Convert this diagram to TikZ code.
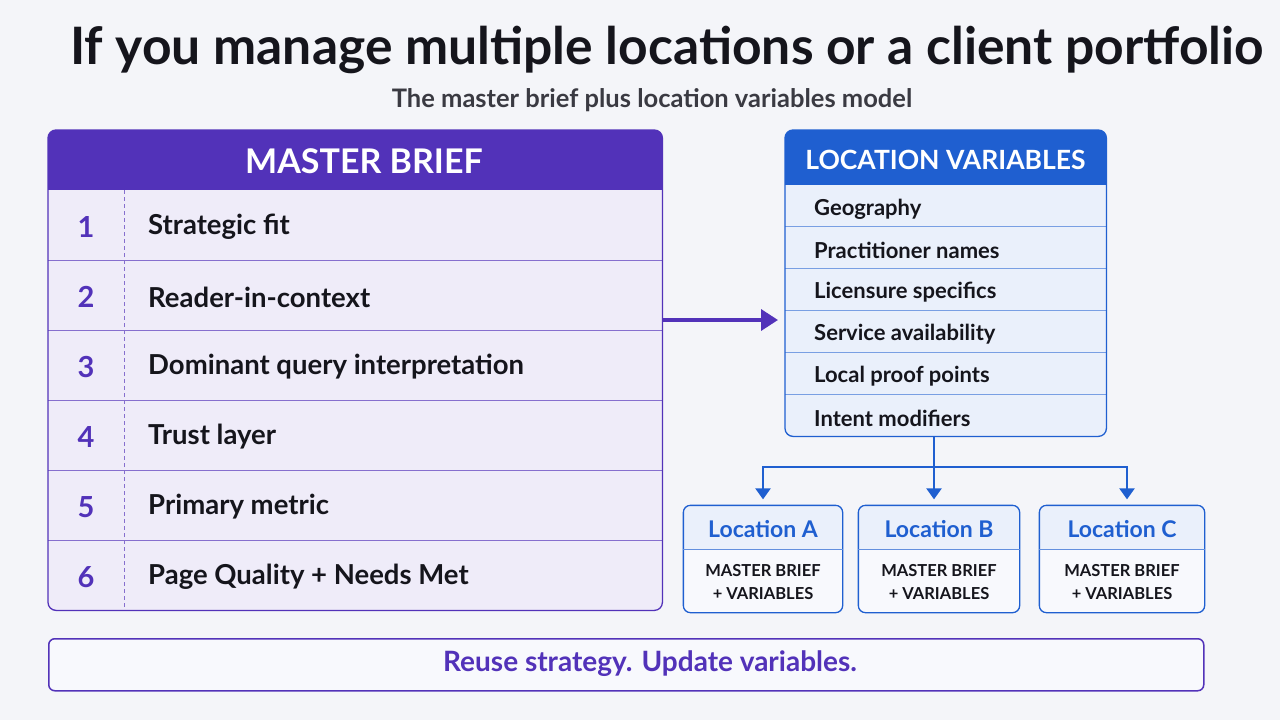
\documentclass[tikz,border=0pt]{standalone}
\usepackage{fontspec}
\setmainfont{Lato}
\usetikzlibrary{positioning, calc, arrows.meta}

\definecolor{bgpage}{HTML}{F4F5F9}
\definecolor{brief}{HTML}{5232B9}
\definecolor{briefrow}{HTML}{EFECF9}
\definecolor{locblue}{HTML}{1F5FD0}
\definecolor{locrow}{HTML}{EAF0FB}
\definecolor{locbody}{HTML}{F8F9FD}
\definecolor{ink}{HTML}{15151C}
\definecolor{subink}{HTML}{3A3A42}

\tikzset{
	fsz/.style={font=\bfseries\fontsize{#1}{#1}\selectfont},
	rowtxt/.style={fsz=27.5, text=ink, anchor=west, inner sep=0pt},
	numtxt/.style={fsz=29, text=brief, inner sep=0pt},
	vartxt/.style={fsz=22, text=ink, anchor=west, inner sep=0pt},
	locbox/.style={draw=locblue, line width=1.3pt, rounded corners=7pt, minimum height=106pt, inner sep=0pt},
	loctxt/.style={fsz=23, text=locblue, inner sep=0pt},
	smalltxt/.style={fsz=16.5, text=ink, inner sep=0pt, align=center},
	bluearrow/.style={draw=locblue, line width=2.4pt, -{Triangle[length=11pt,width=15pt]}},
}

\begin{document}
\begin{tikzpicture}[x=1pt, y=-1pt]
	\def\mbL{48}
	\def\mbR{662}
	\def\mbT{190}
	\def\rowH{70}
	\def\lvL{785}
	\def\lvR{1106}
	\def\lvT{185}
	\def\lvH{41.83}

	% page
	\fill[bgpage] (0,0) rectangle (1280,720);
	\useasboundingbox (0,0) rectangle (1280,720);

	% title
	\node[fsz=51.6, text=ink] (title) at (667,50) {If you manage multiple locations or a client portfolio};
	\node[fsz=25.5, text=subink] (subtitle) at (652,100) {The master brief plus location variables model};

	% master brief
	\node[anchor=north west, minimum width=614pt, minimum height=480pt, inner sep=0pt] (mb) at (\mbL,130) {};
	\begin{scope}
		\clip[rounded corners=8pt] (mb.north west) rectangle (mb.south east);
		\fill[briefrow] (mb.north west) rectangle (mb.south east);
		\fill[brief] (mb.north west) rectangle (\mbR,\mbT);
	\end{scope}
	\foreach \i in {1,...,5} {
		\draw[brief!70, line width=1pt] (\mbL,\mbT+\i*\rowH) -- (\mbR,\mbT+\i*\rowH);
	}
	\draw[brief!70, line width=0.8pt, dash pattern=on 4pt off 3pt] (124,\mbT) -- (124,610);
	\draw[brief, line width=1.3pt, rounded corners=8pt] (mb.north west) rectangle (mb.south east);
	\node[fsz=34, text=white] (mbhead) at (364,161) {MASTER BRIEF};
	\foreach \i/\txt in {1/Strategic fit, 2/Reader-in-context, 3/Dominant query interpretation, 4/Trust layer, 5/Primary metric, 6/Page Quality + Needs Met} {
		\node[numtxt] (mbn\i) at (86,\mbT+\i*\rowH-33) {\i};
		\node[rowtxt] (mbt\i) at (148,\mbT+\i*\rowH-33) {\txt};
	}

	% location variables
	\node[anchor=north west, minimum width=321pt, minimum height=306pt, inner sep=0pt] (lv) at (\lvL,130) {};
	\begin{scope}
		\clip[rounded corners=8pt] (lv.north west) rectangle (lv.south east);
		\fill[locrow] (lv.north west) rectangle (lv.south east);
		\fill[locblue] (lv.north west) rectangle (\lvR,\lvT);
	\end{scope}
	\foreach \i in {1,...,5} {
		\draw[locblue!60, line width=1pt] (\lvL,\lvT+\i*\lvH) -- (\lvR,\lvT+\i*\lvH);
	}
	\draw[locblue, line width=1.3pt, rounded corners=8pt] (lv.north west) rectangle (lv.south east);
	\node[fsz=26.5, text=white] (lvhead) at (945.5,160) {LOCATION VARIABLES};
	\foreach \i/\txt in {1/Geography, 2/Practitioner names, 3/Licensure specifics, 4/Service availability, 5/Local proof points, 6/Intent modifiers} {
		\node[vartxt] (lvt\i) at (814,\lvT+\i*\lvH-\lvH/2+3) {\txt};
	}

	% master brief feeds variables
	\draw[brief, line width=3.5pt, -{Triangle[length=17pt,width=21pt]}, shorten >=7pt] (mb.east |- 0,320) -- (lv.west |- 0,320);

	% locations
	\foreach \n/\x/\w in {A/763/158, B/939/160, C/1122/164} {
		\node[locbox, minimum width=\w pt] (loc\n) at (\x,559) {};
		\begin{scope}
			\clip[rounded corners=7pt] (loc\n.north west) rectangle (loc\n.south east);
			\fill[locrow] (loc\n.north west) rectangle (loc\n.east |- 0,549);
			\fill[locbody] (loc\n.west |- 0,549) rectangle (loc\n.south east);
		\end{scope}
		\draw[locblue, line width=1.3pt, rounded corners=7pt] (loc\n.north west) rectangle (loc\n.south east);
		\draw[locblue!70, line width=1pt] (loc\n.west |- 0,549) -- (loc\n.east |- 0,549);
		\node[loctxt] (locname\n) at (\x,529) {Location \n};
		\node[smalltxt] (locbody\n) at (\x,582) {MASTER BRIEF\\[6pt]+ VARIABLES};
	}

	% split to locations
	\coordinate (split) at (934,467);
	\draw[locblue, line width=2.4pt] (lv.south -| split) -- (split);
	\draw[bluearrow, shorten >=6pt] (split) -| (locA.north);
	\draw[bluearrow, shorten >=6pt] (split) -- (split |- locB.north);
	\draw[bluearrow, shorten >=6pt] (split) -| ([xshift=5pt]locC.north);

	% bottom line
	\node[draw=brief, line width=1.5pt, fill=locbody, rounded corners=6pt, minimum width=1155pt, minimum height=52pt, anchor=north west, inner sep=0pt] (reuse) at (48,638) {};
	\node[fsz=28, text=brief] (reusetxt) at (650,664) {Reuse strategy. Update variables.};
\end{tikzpicture}
\end{document}
